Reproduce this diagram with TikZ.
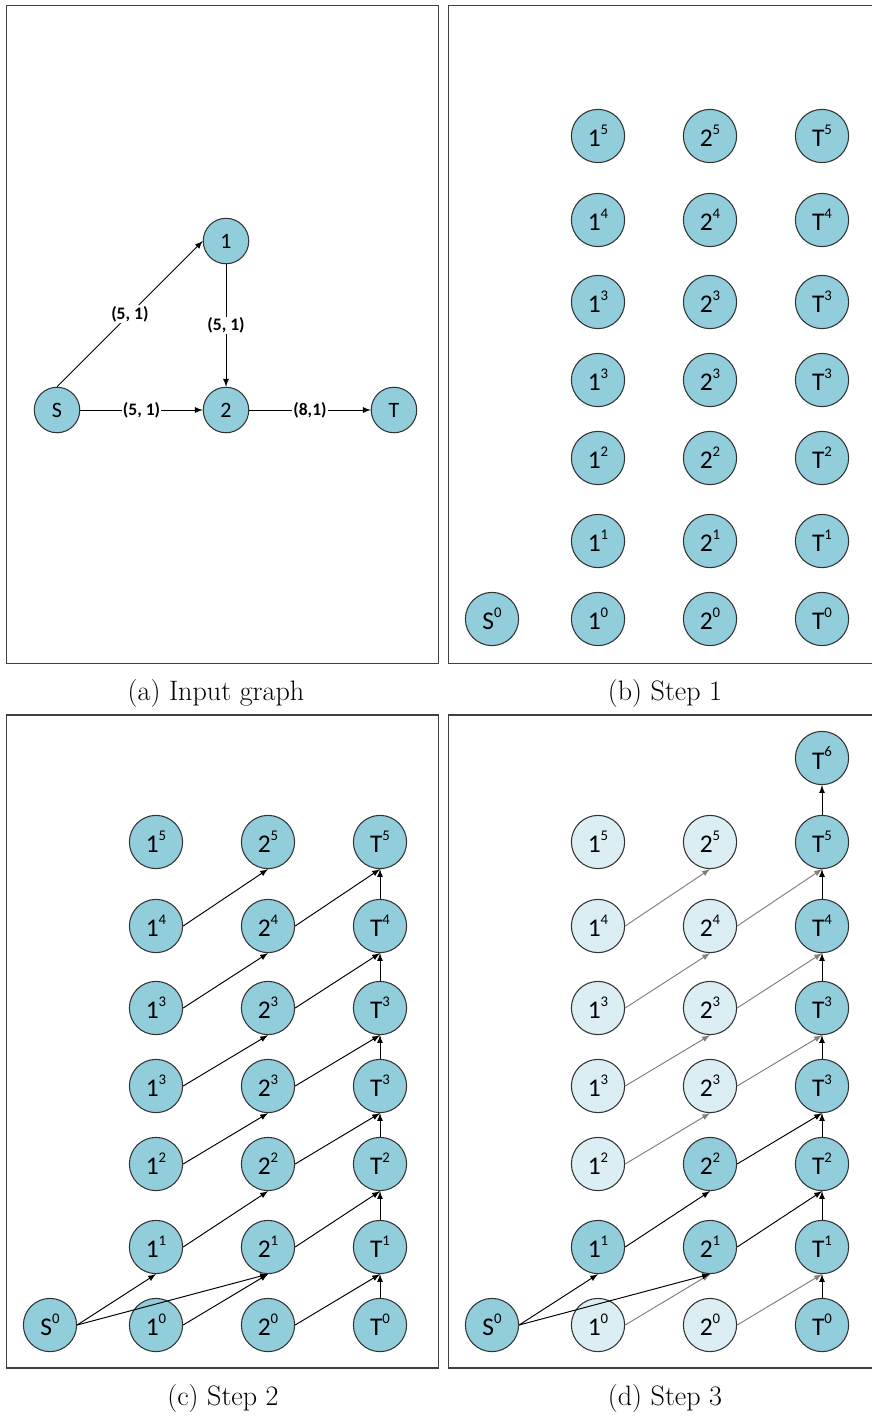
\documentclass[tikz,border=0pt]{standalone}
\usepackage{fontspec}
\usepackage{xcolor}
\usepackage{tikz}
\newfontfamily\calibri{Carlito}
\definecolor{vtxhot}{HTML}{92CDDC}
\definecolor{vtxcold}{HTML}{DAEEF3}
\definecolor{framegray}{HTML}{404040}
\newcommand{\vlab}[2]{#1\raisebox{1ex}{\fontsize{8.4}{9}\selectfont #2}}

\begin{document}
\begin{tikzpicture}[>=latex, x=0.02cm, y=-0.02cm,
  vtx/.style={circle, draw=black!80, line width=0.6pt, fill=vtxhot, inner sep=0pt,
    minimum size=1.065cm, font=\calibri\fontsize{14.5}{15}\selectfont},
  vtxa/.style={vtx, minimum size=0.91cm, font=\calibri\fontsize{12.5}{13}\selectfont},
  hot/.style={fill=vtxhot}, cold/.style={fill=vtxcold},
  edge/.style={->, line width=0.55pt},
  faded/.style={edge, draw=black!50},
  lbl/.style={fill=white, inner sep=0.5pt, font=\calibri\bfseries\fontsize{10}{11}\selectfont},
  frame/.style={draw=framegray, line width=0.8pt},
  caption/.style={font=\fontsize{16}{19}\selectfont}]
\useasboundingbox (0,0) rectangle (872,1419);

% frames and captions
\draw[frame] (6.5,5.5) rectangle (438.5,663.5);
\draw[frame] (872,5.5) -- (448.5,5.5) -- (448.5,663.5) -- (872,663.5);
\draw[frame] (6.5,715) rectangle (438.5,1368);
\draw[frame] (872,715) -- (448.5,715) -- (448.5,1368) -- (872,1368);
\node[caption] (cap-a) at (216,693) {(a) Input graph};
\node[caption] (cap-b) at (665,693) {(b) Step 1};
\node[caption] (cap-c) at (223,1398) {(c) Step 2};
\node[caption] (cap-d) at (665,1398) {(d) Step 3};

% (a) input graph
\node[vtxa] (a-2) at (226,410) {2};
\node[vtxa, left of=a-2, node distance=3.38cm] (a-S) {S};
\node[vtxa, right of=a-2, node distance=3.36cm] (a-T) {T};
\node[vtxa, above of=a-2, node distance=3.38cm] (a-1) {1};

\draw[edge] (a-S.north) -- node[lbl] {(5, 1)} (a-1.west);
\draw[edge] (a-1) -- node[lbl] {(5, 1)} (a-2);
\draw[edge] (a-S) -- node[lbl] {(5, 1)} (a-2);
\draw[edge] (a-2) -- node[lbl] {(8,1)} (a-T);

% (b) and (c): all vertices lit
\foreach \p/\dx/\dy in {b/442/-706, c/0/0}{
  \begin{scope}[shift={(\dx,\dy)}]
    \node[vtx] (\p-S0) at (50,1325) {\vlab{S}{0}};
    \foreach \r/\y/\l in {0/1325/0, 1/1247/1, 2/1164/2, 3/1086/3, 4/1008/3, 5/926/4, 6/842/5}{
      \node[vtx] (\p-1\r) at (156,\y) {\vlab{1}{\l}};
      \node[vtx] (\p-2\r) at (268,\y) {\vlab{2}{\l}};
      \node[vtx] (\p-T\r) at (380,\y) {\vlab{T}{\l}};
    }
  \end{scope}
}

\foreach \r [count=\s from 1] in {0,...,5}{
  \draw[edge] (c-1\r.east) -- (c-2\s.south);
  \draw[edge] (c-2\r.east) -- (c-T\s.south);
  \draw[edge] (c-T\r) -- (c-T\s);
}
\draw[edge] (c-S0.east) -- (c-11.south);
\draw[edge] (c-S0.east) -- (c-21.south);

% (d)
\begin{scope}[shift={(442,0)}]
  \node[vtx] (d-S0) at (50,1325) {\vlab{S}{0}};
  \foreach \r/\y/\l/\ka/\kb in {0/1325/0/cold/cold, 1/1247/1/hot/hot, 2/1164/2/cold/hot,
      3/1086/3/cold/cold, 4/1008/3/cold/cold, 5/926/4/cold/cold, 6/842/5/cold/cold}{
    \node[vtx, \ka] (d-1\r) at (156,\y) {\vlab{1}{\l}};
    \node[vtx, \kb] (d-2\r) at (268,\y) {\vlab{2}{\l}};
    \node[vtx] (d-T\r) at (380,\y) {\vlab{T}{\l}};
  }
  \node[vtx] (d-T7) at (380,758) {\vlab{T}{6}};
\end{scope}

\foreach \r/\ea/\eb [count=\s from 1] in {0/faded/faded, 1/edge/edge, 2/faded/edge,
    3/faded/faded, 4/faded/faded, 5/faded/faded}{
  \draw[\ea] (d-1\r.east) -- (d-2\s.south);
  \draw[\eb] (d-2\r.east) -- (d-T\s.south);
  \draw[edge] (d-T\r) -- (d-T\s);
}
\draw[edge] (d-T6) -- (d-T7);
\draw[edge] (d-S0.east) -- (d-11.south);
\draw[edge] (d-S0.east) -- (d-21.south);
\end{tikzpicture}
\end{document}
